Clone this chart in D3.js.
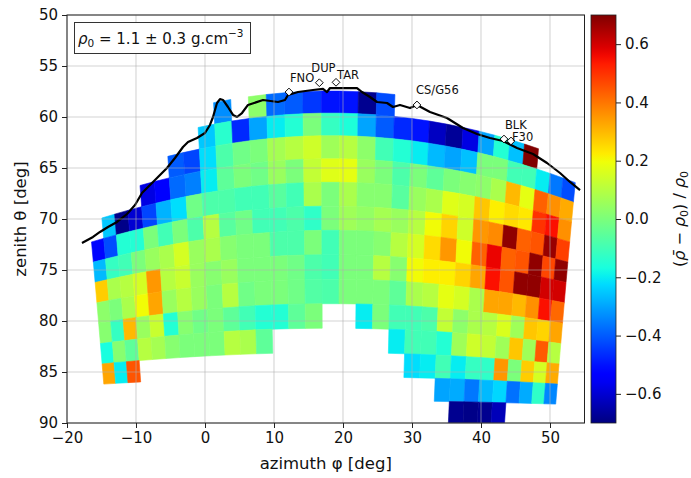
<!DOCTYPE html>
<html><head><meta charset="utf-8">
<script src="https://cdn.jsdelivr.net/npm/d3@7"></script>
<style>body{margin:0;background:#fff;} svg{display:block;font-family:"DejaVu Sans",sans-serif;}</style>
</head><body><svg id="chart" width="691" height="478"></svg>
<script>
// Line-of-sight grid of the telescope: 31 x 31 directions, only rows 8 .. -5 carry data
const colIndex = d3.range(-15, 16);
const rowIndex = d3.range(8, -6, -1);
const n = null;
// relative density contrast (rho_mean - rho0) / rho0, one array per row, columns -15 .. 15
const row8  = [n,n,n,n,n,n,n,n,n,-0.33,n,0.03,-0.38,-0.40,-0.45,-0.50,-0.50,-0.68,-0.42,n,n,n,n,n,n,n,n,n,n,n,n];
const row7  = [n,n,n,n,n,n,n,n,-0.25,-0.14,-0.47,-0.30,-0.20,-0.15,0.00,-0.12,-0.16,-0.30,-0.40,-0.47,-0.50,-0.62,-0.67,-0.58,-0.30,-0.15,-0.26,0.70,n,n,n];
const row6  = [n,n,n,n,n,n,-0.40,-0.43,-0.22,-0.08,-0.02,0.00,0.07,0.10,0.14,0.06,0.10,0.03,-0.10,-0.15,-0.20,-0.27,-0.30,-0.26,0.00,0.00,-0.10,-0.10,-0.20,-0.36,-0.42];
const row5  = [n,n,n,n,-0.58,-0.53,-0.38,-0.35,-0.20,-0.05,0.00,-0.02,0.05,0.00,0.12,0.17,0.18,0.05,0.00,-0.08,0.00,-0.05,0.00,0.02,0.03,0.08,0.30,0.18,0.43,0.36,0.32];
const row4  = [n,-0.25,-0.69,-0.60,-0.43,-0.28,-0.22,-0.02,-0.08,-0.08,-0.10,-0.10,-0.06,-0.10,0.08,0.00,0.08,0.02,0.02,-0.06,0.05,0.08,0.17,0.15,0.28,0.22,0.25,0.23,0.50,0.55,0.36];
const row3  = [-0.52,-0.42,-0.15,-0.15,0.00,-0.10,0.00,-0.08,0.10,-0.06,-0.02,-0.10,-0.10,-0.08,-0.13,0.00,0.06,0.04,0.07,0.05,0.10,0.20,0.26,0.14,0.35,0.37,0.68,0.43,0.45,0.67,0.48];
const row2  = [-0.27,-0.12,-0.10,0.00,0.05,0.08,0.15,0.05,0.08,0.02,0.00,0.00,-0.08,-0.08,0.00,-0.10,0.00,0.00,0.02,0.10,0.15,0.25,0.35,0.20,0.43,0.57,0.43,0.45,0.68,0.47,0.68];
const row1  = [0.27,0.08,0.10,0.15,0.35,0.10,0.13,0.05,0.02,0.05,0.00,0.00,0.00,-0.02,-0.08,-0.10,0.00,0.00,0.10,0.02,0.20,0.22,0.22,0.26,0.33,0.55,0.45,0.68,0.68,0.60,0.60];
const row0  = [0.03,0.00,0.08,0.20,0.33,0.05,0.10,0.05,0.00,0.10,-0.02,0.00,0.00,-0.02,-0.07,-0.08,0.00,0.00,0.00,-0.05,0.08,0.10,0.18,0.15,0.08,0.33,0.33,0.30,0.36,0.55,0.42];
const rowM1 = [0.02,-0.12,0.30,0.05,0.13,-0.15,0.02,-0.02,0.00,-0.05,-0.10,-0.15,-0.15,-0.05,0.00,n,n,-0.20,0.00,-0.10,-0.10,-0.08,0.12,0.03,0.08,0.10,0.16,0.06,0.28,0.26,0.33];
const rowM2 = [-0.17,0.02,-0.05,0.10,0.07,0.02,0.00,0.00,0.00,0.10,0.08,-0.05,n,n,n,n,n,n,n,-0.20,-0.10,-0.10,-0.15,0.06,0.14,0.12,0.06,0.28,0.06,0.44,0.10];
const rowM3 = [0.33,-0.20,0.45,n,n,n,n,n,n,n,n,n,n,n,n,n,n,n,n,n,-0.22,-0.20,-0.10,-0.20,-0.12,-0.13,0.35,0.00,0.27,0.15,0.32];
const rowM4 = [n,n,n,n,n,n,n,n,n,n,n,n,n,n,n,n,n,n,n,n,n,n,-0.30,-0.29,-0.36,-0.27,-0.23,-0.37,-0.29,-0.13,-0.34];
const rowM5 = [n,n,n,n,n,n,n,n,n,n,n,n,n,n,n,n,n,n,n,n,n,n,n,-0.68,-0.69,-0.68,-0.63,n,n,n,n];
const contrast = [row8,row7,row6,row5,row4,row3,row2,row1,row0,rowM1,rowM2,rowM3,rowM4,rowM5];

// topographic profile of the summit seen from the telescope
const profileAz = [-17.83,-16.23,-15.22,-14.06,-12.75,-11.30,-10.14,-9.13,-7.68,-5.51,-4.35,-3.19,-2.46,-1.16,0.0,0.72,1.16,1.74,2.17,2.61,3.33,4.06,4.64,5.36,6.23,8.41,10.58,11.59,12.03,13.48,15.65,17.10,17.68,18.12,22.03,22.75,23.91,24.93,26.38,27.25,28.26,29.71,30.72,32.61,35.07,37.39,39.42,41.30,43.19,45.22,47.54,49.57,51.45,52.90,54.35];
const profileZen = [72.35,71.76,71.27,70.78,70.29,69.51,68.63,67.45,66.47,65.0,64.02,62.94,62.45,62.06,61.57,60.78,60.0,58.63,58.24,58.33,59.02,59.80,60.0,59.61,58.82,58.33,58.53,58.33,57.84,57.55,57.35,57.25,57.55,57.16,57.16,57.55,58.04,58.53,58.63,59.02,58.82,59.12,58.82,59.51,60.10,61.08,61.67,62.06,62.35,63.04,63.63,64.51,65.49,66.37,67.16];

// summit features
const siteNames = ["FNO","DUP","TAR","CS/G56","BLK","F30"];
const siteAz = [12.17,16.57,18.99,30.72,43.33,44.35];
const siteZen = [57.55,56.64,56.60,58.82,62.16,62.35];

const xTicks = [-20,-10,0,10,20,30,40,50];
const yTicks = [50,55,60,65,70,75,80,85,90];
const cbTicks = [-0.6,-0.4,-0.2,0.0,0.2,0.4,0.6];

const M = {left:67, right:584.5, top:15, bottom:423};
const svg = d3.select("#chart");
const x = d3.scaleLinear().domain([-20,55]).range([M.left,M.right]);
const y = d3.scaleLinear().domain([50,90]).range([M.top,M.bottom]);

// jet colour map
const jr = d3.scaleLinear().domain([0,0.35,0.66,0.89,1]).range([0,0,1,1,0.5]).clamp(true);
const jg = d3.scaleLinear().domain([0,0.125,0.375,0.64,0.91,1]).range([0,0,1,1,0,0]).clamp(true);
const jb = d3.scaleLinear().domain([0,0.11,0.34,0.65,1]).range([0.5,1,1,0,0]).clamp(true);
const jet = t => d3.rgb(Math.round(jr(t)*255), Math.round(jg(t)*255), Math.round(jb(t)*255)).formatHex();
const tScale = d3.scaleLinear().domain([-0.7,0.7]).range([0,1]).clamp(true);
const color = v => jet(tScale(v));

// pixel (u, v) of the detector matrix -> (azimuth, zenith) in degrees
const PHI0 = 18.2, ELEV0 = 12.9*Math.PI/180, PITCH = 0.042;
function sight(u, v){
  const a=u*PITCH, b=v*PITCH;
  const h=Math.cos(ELEV0)-b*Math.sin(ELEV0), z=Math.sin(ELEV0)+b*Math.cos(ELEV0);
  const r=Math.hypot(h,a,z);
  return [PHI0+Math.atan2(a,h)*180/Math.PI, Math.acos(z/r)*180/Math.PI];
}

svg.append("clipPath").attr("id","plotclip").append("rect")
  .attr("x",M.left).attr("y",M.top).attr("width",M.right-M.left).attr("height",M.bottom-M.top);

const cells = [];
rowIndex.forEach((j,rj)=>colIndex.forEach((i,ci)=>{
  const v = contrast[rj][ci];
  if (v === null) return;
  cells.push({i,j,v});
}));
const cellPath = d => {
  const pts=[[d.i-.5,d.j+.5],[d.i+.5,d.j+.5],[d.i+.5,d.j-.5],[d.i-.5,d.j-.5]]
    .map(([u,w])=>{const p=sight(u,w);return [x(p[0]),y(p[1])];});
  return "M"+pts.map(p=>p[0].toFixed(2)+","+p[1].toFixed(2)).join("L")+"Z";
};
const plot = svg.append("g").attr("clip-path","url(#plotclip)");
plot.append("g").selectAll("path").data(cells).join("path")
  .attr("d",cellPath).attr("fill",d=>color(d.v)).attr("stroke",d=>color(d.v)).attr("stroke-width",0.6);

// grid
const grid = svg.append("g").attr("stroke","#b0b0b0").attr("stroke-opacity",0.55).attr("stroke-width",1.1);
grid.selectAll(".gx").data(xTicks).join("line").attr("x1",d=>x(d)).attr("x2",d=>x(d)).attr("y1",M.top).attr("y2",M.bottom);
grid.selectAll(".gy").data(yTicks).join("line").attr("y1",d=>y(d)).attr("y2",d=>y(d)).attr("x1",M.left).attr("x2",M.right);

// profile
const line = d3.line().x((d,k)=>x(profileAz[k])).y((d,k)=>y(profileZen[k]));
plot.append("path").datum(profileAz).attr("d",line).attr("fill","none").attr("stroke","#000").attr("stroke-width",2.2).attr("stroke-linejoin","round");

// feature markers and names
const diamond = d3.symbol().type(d3.symbolSquare).size(30);
const labelShift = {"FNO":[1,-10],"DUP":[-8,-11],"TAR":[1,-3],"CS/G56":[-1,-11],"BLK":[1,-10],"F30":[1,0]};
siteNames.forEach((s,k)=>{
  const px=x(siteAz[k]), py=y(siteZen[k]);
  svg.append("path").attr("d",diamond).attr("transform",`translate(${px},${py}) rotate(45)`)
    .attr("fill","#fff").attr("stroke","#000").attr("stroke-width",0.9);
  svg.append("text").attr("x",px+labelShift[s][0]).attr("y",py+labelShift[s][1])
    .attr("font-size",11.5).attr("fill","#111").text(s);
});

// frame and axes
svg.append("rect").attr("x",M.left).attr("y",M.top).attr("width",M.right-M.left).attr("height",M.bottom-M.top)
  .attr("fill","none").attr("stroke","#222").attr("stroke-width",1);
const fmt = d => d<0 ? "\u2212"+Math.abs(d) : String(d);
const ax = svg.append("g").attr("transform",`translate(0,${M.bottom})`)
  .call(d3.axisBottom(x).tickValues(xTicks).tickFormat(fmt).tickSize(5).tickPadding(4));
const ay = svg.append("g").attr("transform",`translate(${M.left},0)`)
  .call(d3.axisLeft(y).tickValues(yTicks).tickFormat(fmt).tickSize(5).tickPadding(4));
[ax,ay].forEach(a=>{a.select(".domain").remove();a.selectAll("text").attr("font-size",15).attr("font-family","DejaVu Sans").attr("fill","#111");a.selectAll("line").attr("stroke","#222");});

svg.append("text").attr("x",(M.left+M.right)/2).attr("y",469).attr("text-anchor","middle")
  .attr("font-size",16.5).attr("fill","#111").text("azimuth \u03C6 [deg]");
svg.append("text").attr("transform",`translate(26,${(M.top+M.bottom)/2}) rotate(-90)`).attr("text-anchor","middle")
  .attr("font-size",16.5).attr("fill","#111").text("zenith \u03B8 [deg]");

// density box
svg.append("rect").attr("x",74.5).attr("y",22.5).attr("width",176).attr("height",31)
  .attr("fill","#fff").attr("stroke","#333").attr("stroke-width",1);
const bt = svg.append("text").attr("x",78).attr("y",43.5).attr("font-size",15).attr("fill","#111");
bt.append("tspan").attr("font-style","italic").text("\u03C1");
bt.append("tspan").attr("font-size",10.5).attr("dy",3).text("0");
bt.append("tspan").attr("dy",-3).text(" = 1.1 \u00B1 0.3 g.cm");
bt.append("tspan").attr("font-size",10.5).attr("dy",-6.5).text("\u22123");

// colour bar
const cb = {x:591, w:25};
const cy = d3.scaleLinear().domain([-0.7,0.7]).range([M.bottom,M.top]);
const grad = svg.append("defs").append("linearGradient").attr("id","jetgrad")
  .attr("x1",0).attr("y1",1).attr("x2",0).attr("y2",0);
d3.range(0,1.0001,0.02).forEach(t=>grad.append("stop").attr("offset",t).attr("stop-color",jet(t)));
svg.append("rect").attr("x",cb.x).attr("y",M.top).attr("width",cb.w).attr("height",M.bottom-M.top)
  .attr("fill","url(#jetgrad)").attr("stroke","#222").attr("stroke-width",0.8);
const ac = svg.append("g").attr("transform",`translate(${cb.x+cb.w},0)`)
  .call(d3.axisRight(cy).tickValues(cbTicks).tickFormat(d=>d<0?"\u2212"+Math.abs(d).toFixed(1):d.toFixed(1)).tickSize(5).tickPadding(4));
ac.select(".domain").remove();
ac.selectAll("text").attr("font-size",15).attr("font-family","DejaVu Sans").attr("fill","#111");
ac.selectAll("line").attr("stroke","#222");

const cl = svg.append("text").attr("transform",`translate(685,${(M.top+M.bottom)/2}) rotate(-90)`)
  .attr("text-anchor","middle").attr("font-size",16).attr("fill","#111");
cl.append("tspan").text("(");
cl.append("tspan").attr("font-style","italic").text("\u03C1\u0304");
cl.append("tspan").text(" \u2212 ");
cl.append("tspan").attr("font-style","italic").text("\u03C1");
cl.append("tspan").attr("font-size",11).attr("dy",3).text("0");
cl.append("tspan").attr("dy",-3).text(") / ");
cl.append("tspan").attr("font-style","italic").text("\u03C1");
cl.append("tspan").attr("font-size",11).attr("dy",3).text("0");
</script></body></html>
